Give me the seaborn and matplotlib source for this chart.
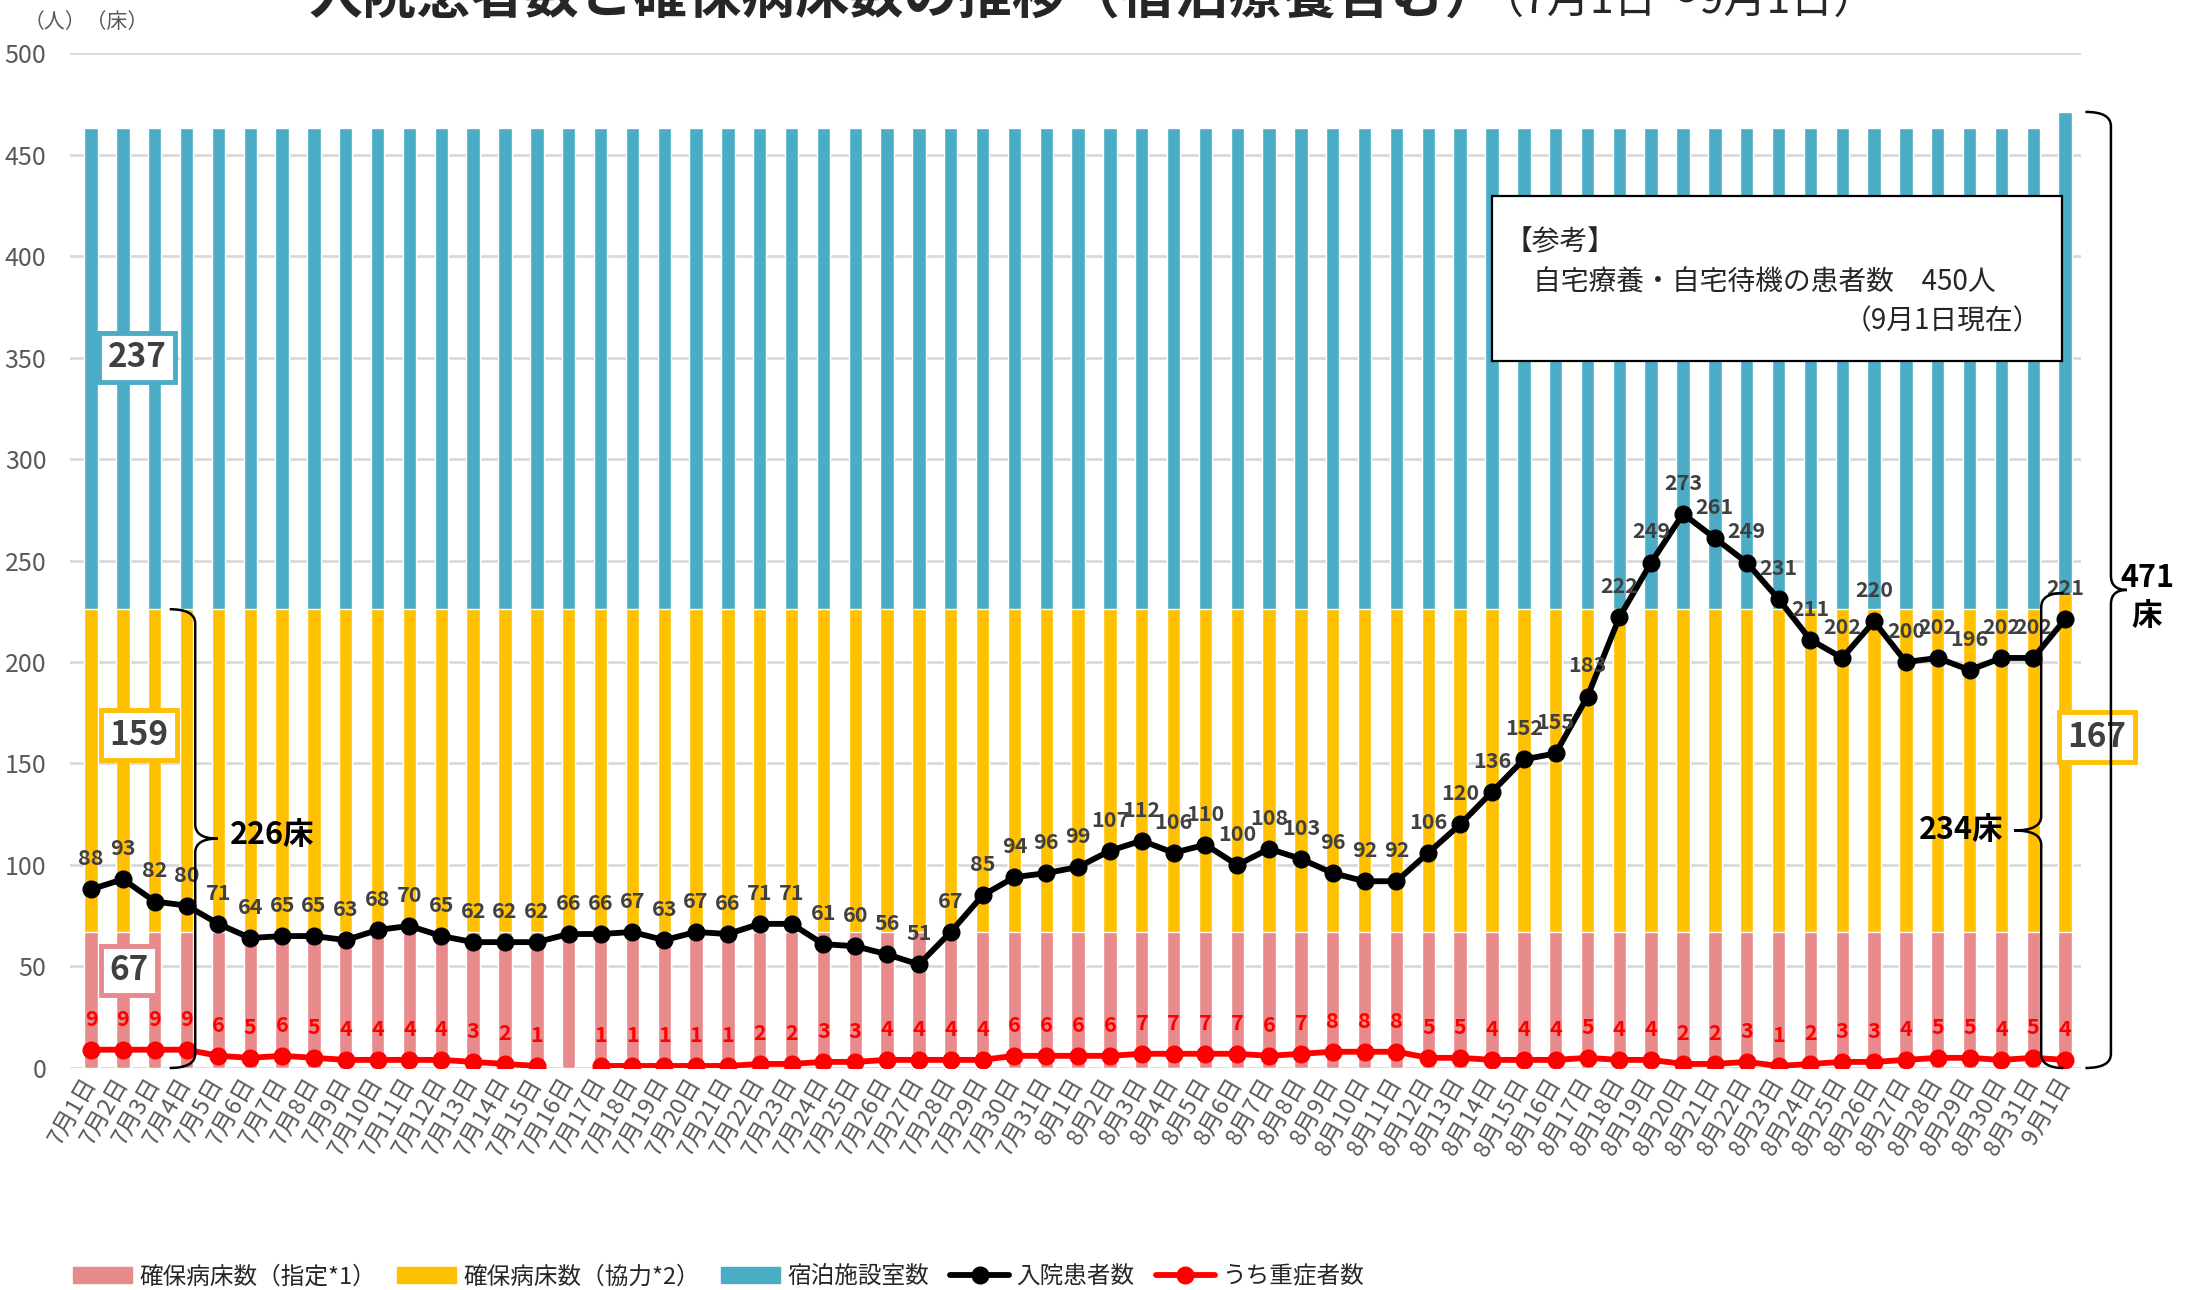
import numpy as np
import pandas as pd
import matplotlib
matplotlib.use('Agg')
import matplotlib.pyplot as plt
import seaborn as sns
from matplotlib.path import Path
from matplotlib.patches import PathPatch, Rectangle, Patch
from matplotlib.lines import Line2D

sns.set_style('white')
plt.rcParams['font.family'] = ['Noto Sans CJK JP', 'DejaVu Sans']

# 日付 (7/1 - 9/1)
dates = [f'7月{d}日' for d in range(1, 32)] + [f'8月{d}日' for d in range(1, 32)] + ['9月1日']

# 病床・居室数
beds_designated = [67] * 63                 # 確保病床数（指定*1）
beds_cooperating = [159] * 62 + [167]       # 確保病床数（協力*2）
hotel_rooms = [237] * 63                    # 宿泊施設室数

# 入院患者数
inpatients = [88, 93, 82, 80, 71, 64, 65, 65, 63, 68,
              70, 65, 62, 62, 62, 66, 66, 67, 63, 67,
              66, 71, 71, 61, 60, 56, 51, 67, 85, 94,
              96,
              99, 107, 112, 106, 110, 100, 108, 103, 96, 92,
              92, 106, 120, 136, 152, 155, 183, 222, 249, 273,
              261, 249, 231, 211, 202, 220, 200, 202, 196, 202,
              202,
              221]

# うち重症者数 (7/16 は欠測)
severe = [9, 9, 9, 9, 6, 5, 6, 5, 4, 4,
          4, 4, 3, 2, 1, np.nan, 1, 1, 1, 1,
          1, 2, 2, 3, 3, 4, 4, 4, 4, 6,
          6,
          6, 6, 7, 7, 7, 7, 6, 7, 8, 8,
          8, 5, 5, 4, 4, 4, 5, 4, 4, 2,
          2, 3, 1, 2, 3, 3, 4, 5, 5, 4,
          5,
          4]

PINK = '#E88A8B'
YELLOW = '#FFC000'
BLUE = '#4BACC6'
LABEL_GRAY = '#404040'
AXIS_GRAY = '#595959'

df = pd.DataFrame({'date': dates,
                   'designated': beds_designated,
                   'cooperating': beds_cooperating,
                   'hotel': hotel_rooms})
df['coop_top'] = df['designated'] + df['cooperating']
df['total'] = df['coop_top'] + df['hotel']

fig, ax = plt.subplots(figsize=(21.97, 12.90), dpi=100)
fig.subplots_adjust(left=0.0319, right=0.9472, bottom=0.1721, top=0.9589)

# 積み上げ棒 (上から順に重ね描き)
sns.barplot(data=df, x='date', y='total', color=BLUE, saturation=1, width=0.42,
            errorbar=None, ax=ax, zorder=2)
sns.barplot(data=df, x='date', y='coop_top', color=YELLOW, saturation=1, width=0.42,
            errorbar=None, ax=ax, zorder=2)
sns.barplot(data=df, x='date', y='designated', color=PINK, saturation=1, width=0.42,
            errorbar=None, ax=ax, zorder=2)

x = np.arange(len(dates))
ax.plot(x, inpatients, color='black', lw=4.2, marker='o', ms=12, zorder=4)
ax.plot(x, severe, color='red', lw=4.2, marker='o', ms=12, zorder=4)

for i, v in enumerate(inpatients):
    ax.annotate(str(v), (i, v), xytext=(0, 22), textcoords='offset points',
                ha='center', va='center', fontsize=15.5, fontweight='bold',
                color=LABEL_GRAY, zorder=6)
for i, v in enumerate(severe):
    if np.isnan(v):
        continue
    ax.annotate(str(int(v)), (i, v), xytext=(0, 22), textcoords='offset points',
                ha='center', va='center', fontsize=15.5, fontweight='bold',
                color='red', zorder=6)

ax.set_ylim(0, 500)
ax.set_xlim(-0.66, 62.5)
ax.set_yticks(range(0, 501, 50))
ax.grid(axis='y', color='#D9D9D9', lw=2)
ax.set_axisbelow(True)
sns.despine(ax=ax, left=True, bottom=True)
ax.tick_params(axis='y', length=0, pad=17, labelsize=18, labelcolor=AXIS_GRAY)
ax.tick_params(axis='x', length=0, pad=8, labelsize=17, labelcolor=AXIS_GRAY)
ax.set_xticks(x)
ax.set_xticklabels(dates, rotation=60, ha='right', va='center', rotation_mode='anchor')
ax.set_xlabel('')
ax.set_ylabel('')

# 系列の値ボックス
def value_box(xp, yp, text, edge):
    ax.text(xp, yp, text, ha='center', va='center', fontsize=24, fontweight='bold',
            color=LABEL_GRAY, zorder=7,
            bbox=dict(boxstyle='square,pad=0.25', fc='white', ec=edge, lw=3.5))

value_box(1.45, 350, str(hotel_rooms[0]), BLUE)
value_box(1.5, 164, str(beds_cooperating[0]), YELLOW)
value_box(1.2, 48, str(beds_designated[0]), PINK)
value_box(63.0, 163, str(beds_cooperating[-1]), YELLOW)


# 中括弧
def brace(xp, y0, y1, hook, tip, r=7):
    mid = (y0 + y1) / 2
    verts = [(xp + hook, y0), (xp, y0), (xp, y0 + r),
             (xp, mid - r),
             (xp, mid), (xp + tip, mid),
             (xp, mid), (xp, mid + r),
             (xp, y1 - r),
             (xp, y1), (xp + hook, y1)]
    codes = [Path.MOVETO, Path.CURVE3, Path.CURVE3, Path.LINETO,
             Path.CURVE3, Path.CURVE3, Path.CURVE3, Path.CURVE3,
             Path.LINETO, Path.CURVE3, Path.CURVE3]
    ax.add_patch(PathPatch(Path(verts, codes), fill=False, ec='black', lw=1.8,
                           zorder=8, clip_on=False))
    return mid

first_total = beds_designated[0] + beds_cooperating[0]
last_total = beds_designated[-1] + beds_cooperating[-1]
all_total = last_total + hotel_rooms[-1]

m = brace(3.27, 0, first_total, -0.8, 0.7)
ax.text(4.35, m + 2, f'{first_total}床', ha='left', va='center', fontsize=22,
        fontweight='bold', color='black', zorder=8)
m = brace(61.25, 0, last_total, 0.7, -0.85)
ax.text(60.05, m, f'{last_total}床', ha='right', va='center', fontsize=22,
        fontweight='bold', color='black', zorder=8)
m = brace(63.44, 0, all_total, -0.8, 0.5)
ax.text(63.75, m + 6, f'{all_total}', ha='left', va='center', fontsize=22,
        fontweight='bold', color='black', zorder=8)
ax.text(64.55, m - 13, '床', ha='center', va='center', fontsize=22,
        fontweight='bold', color='black', zorder=8)

# 参考ボックス
ax.add_patch(Rectangle((44.0, 348.3), 17.9, 81.3, fc='white', ec='black', lw=1.6, zorder=7))
ax.text(44.4, 407, '【参考】', ha='left', va='center', fontsize=20, zorder=8)
ax.text(45.3, 387, '自宅療養・自宅待機の患者数　450人', ha='left', va='center',
        fontsize=20, zorder=8)
ax.text(61.25, 368, '（9月1日現在）', ha='right', va='center', fontsize=20, zorder=8)

# タイトル・単位
fig.text(309 / 2197, 1 - 14 / 1290, '入院患者数と確保病床数の推移（宿泊療養含む）',
         ha='left', va='baseline', fontsize=39, fontweight='bold')
fig.text(1480 / 2197, 1 - 14 / 1290, '（7月1日～9月1日）',
         ha='left', va='baseline', fontsize=31)
fig.text(24 / 2197, 1 - 22 / 1290, '（人）（床）', ha='left', va='center',
         fontsize=15, color=AXIS_GRAY)

handles = [Patch(color=PINK), Patch(color=YELLOW), Patch(color=BLUE),
           Line2D([], [], color='black', lw=4.2, marker='o', ms=12),
           Line2D([], [], color='red', lw=4.2, marker='o', ms=12)]
labels = ['確保病床数（指定*1）', '確保病床数（協力*2）', '宿泊施設室数', '入院患者数', 'うち重症者数']
fig.legend(handles, labels, loc='lower left', bbox_to_anchor=(0.029, -0.006), ncol=5,
           frameon=False, fontsize=17, handlelength=2.5, handleheight=0.7,
           handletextpad=0.3, columnspacing=0.9, borderaxespad=0.0)

fig.savefig('out.png', dpi=100)
